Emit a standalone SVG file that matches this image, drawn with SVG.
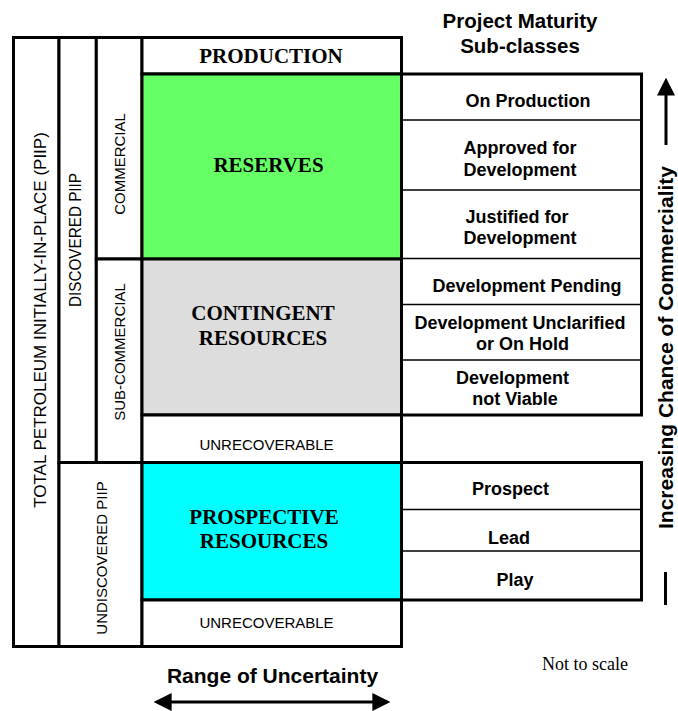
<svg xmlns="http://www.w3.org/2000/svg" width="678" height="711" viewBox="0 0 678 711">
<defs>
<style>
.cell{stroke:#000;stroke-width:3;fill:#fff}
.thin{stroke:#000;stroke-width:1.3}
.big{font-family:"Liberation Serif",serif;font-weight:bold;font-size:21px;text-anchor:middle;fill:#000}
.sub{font-family:"Liberation Sans",Arial,sans-serif;font-weight:bold;font-size:18px;text-anchor:middle;fill:#000}
.lab{font-family:"Liberation Sans",Arial,sans-serif;font-size:15px;text-anchor:middle;fill:#000}
.head{font-family:"Liberation Sans",Arial,sans-serif;font-weight:bold;font-size:20.5px;text-anchor:middle;fill:#000}
.arr{stroke:#000;stroke-width:3;fill:none}
</style>
<marker id="ah" viewBox="0 0 10 10" refX="2" refY="5" markerWidth="6" markerHeight="6" markerUnits="strokeWidth" orient="auto-start-reverse">
<path d="M0,0 L10,5 L0,10 z" fill="#000"/>
</marker>
</defs>
<rect width="678" height="711" fill="#fff"/>

<g id="title">
<text class="head" x="520" y="28">Project Maturity</text>
<text class="head" x="520" y="53">Sub-classes</text>
</g>

<g id="total-piip">
<rect class="cell" x="13.5" y="37.5" width="45.5" height="609"/>
<text class="lab" style="font-size:17px" transform="translate(46,320) rotate(-90)">TOTAL PETROLEUM INITIALLY-IN-PLACE (PIIP)</text>
</g>
<g id="discovered">
<rect class="cell" x="59" y="37.5" width="37.3" height="425"/>
<text class="lab" style="font-size:16px" textLength="134" lengthAdjust="spacingAndGlyphs" transform="translate(81,240) rotate(-90)">DISCOVERED PIIP</text>
</g>
<g id="commercial">
<rect class="cell" x="96.3" y="37.5" width="45.7" height="221.5"/>
<text class="lab" transform="translate(125,164) rotate(-90)">COMMERCIAL</text>
</g>
<g id="sub-commercial">
<rect class="cell" x="96.3" y="259" width="45.7" height="203.5"/>
<text class="lab" transform="translate(125,352) rotate(-90)">SUB-COMMERCIAL</text>
</g>
<g id="undiscovered">
<rect class="cell" x="59" y="462.5" width="83" height="184"/>
<text class="lab" transform="translate(106.5,558) rotate(-90)">UNDISCOVERED PIIP</text>
</g>

<g id="production">
<rect class="cell" x="142" y="37.5" width="259.5" height="36.5"/>
<text class="big" x="271" y="63">PRODUCTION</text>
</g>
<g id="reserves">
<rect class="cell" x="142" y="74" width="259.5" height="185" style="fill:#66FF66"/>
<text class="big" x="268.5" y="172">RESERVES</text>
</g>
<g id="contingent">
<rect class="cell" x="142" y="259" width="259.5" height="156" style="fill:#DDDDDD"/>
<text class="big" x="263" y="320">CONTINGENT</text>
<text class="big" x="263" y="345">RESOURCES</text>
</g>
<g id="unrecoverable-1">
<rect class="cell" x="142" y="415" width="259.5" height="47.5"/>
<text class="lab" x="266.5" y="450">UNRECOVERABLE</text>
</g>
<g id="prospective">
<rect class="cell" x="142" y="462.5" width="259.5" height="137.5" style="fill:#00FFFF"/>
<text class="big" x="264" y="524">PROSPECTIVE</text>
<text class="big" x="264" y="548">RESOURCES</text>
</g>
<g id="unrecoverable-2">
<rect class="cell" x="142" y="600" width="259.5" height="46.5"/>
<text class="lab" x="266.5" y="628">UNRECOVERABLE</text>
</g>

<g id="discovered-subclasses">
<rect class="cell" x="401.5" y="74" width="240" height="341"/>
<line class="thin" x1="401.5" y1="120" x2="641.5" y2="120"/>
<line class="thin" x1="401.5" y1="190" x2="641.5" y2="190"/>
<line class="thin" x1="401.5" y1="258.5" x2="641.5" y2="258.5"/>
<line class="thin" x1="401.5" y1="304.5" x2="641.5" y2="304.5"/>
<line class="thin" x1="401.5" y1="360" x2="641.5" y2="360"/>
<text class="sub" x="528" y="107">On Production</text>
<text class="sub" x="520" y="153.5">Approved for</text>
<text class="sub" x="520" y="175.5">Development</text>
<text class="sub" x="517" y="223">Justified for</text>
<text class="sub" x="520" y="244">Development</text>
<text class="sub" x="527" y="292">Development Pending</text>
<text class="sub" x="520" y="329">Development Unclarified</text>
<text class="sub" x="522.5" y="350">or On Hold</text>
<text class="sub" x="512.5" y="384">Development</text>
<text class="sub" x="515" y="405">not Viable</text>
</g>
<g id="undiscovered-subclasses">
<rect class="cell" x="401.5" y="462.5" width="240" height="137.5"/>
<line class="thin" x1="401.5" y1="509.5" x2="641.5" y2="509.5"/>
<line class="thin" x1="401.5" y1="551" x2="641.5" y2="551"/>
<text class="sub" x="510.5" y="495">Prospect</text>
<text class="sub" x="509" y="543.5">Lead</text>
<text class="sub" x="515" y="586">Play</text>
</g>

<g id="connectors">
<line class="arr" x1="666" y1="145" x2="666" y2="92" marker-end="url(#ah)"/>
<line class="arr" x1="665.5" y1="572" x2="665.5" y2="605"/>
<line class="arr" x1="168" y1="702" x2="376" y2="702" marker-start="url(#ah)" marker-end="url(#ah)"/>
</g>

<g id="axis-labels">
<text class="head" style="font-size:21px" transform="translate(673,347.5) rotate(-90)">Increasing Chance of Commerciality</text>
<text class="head" style="font-size:21px" x="272.5" y="683">Range of Uncertainty</text>
<text x="585" y="670" style="font-family:'Liberation Serif',serif;font-size:18px;text-anchor:middle;fill:#000">Not to scale</text>
</g>
</svg>
